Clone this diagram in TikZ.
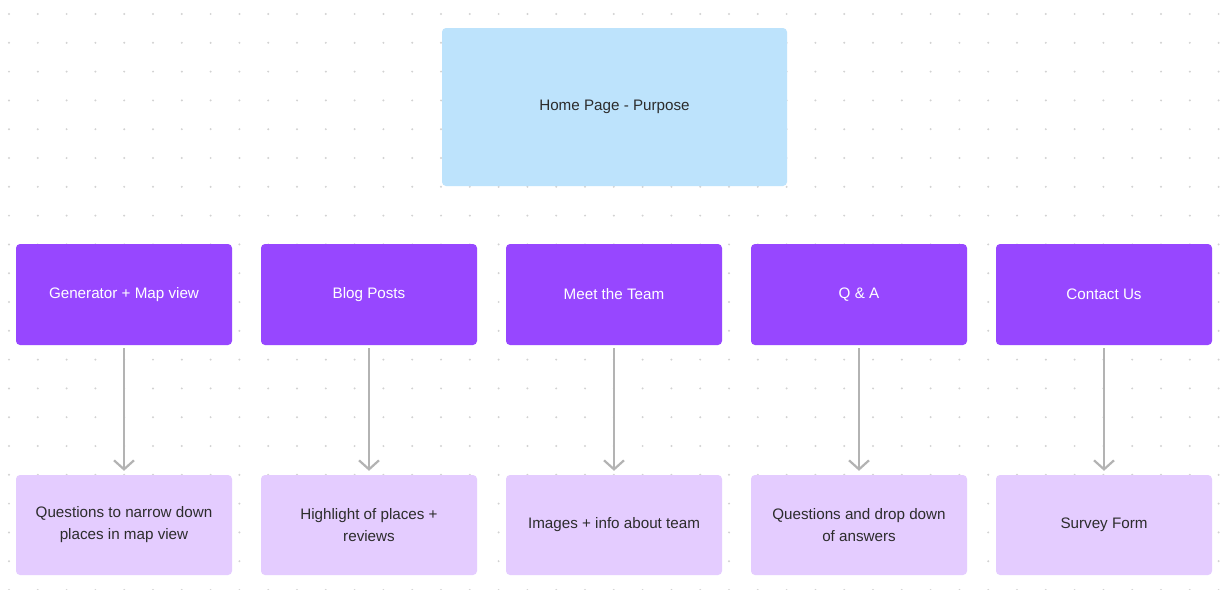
\documentclass[tikz,border=0pt]{standalone}
\usepackage{fontspec}
\setmainfont{Liberation Sans}
\usetikzlibrary{arrows.meta}

\definecolor{homeblue}{HTML}{BDE3FC}
\definecolor{pagepurple}{HTML}{9747FF}
\definecolor{subpurple}{HTML}{E4CCFF}
\definecolor{linkgray}{HTML}{B3B3B3}
\definecolor{dotgray}{HTML}{D2D2D2}
\definecolor{textdark}{HTML}{2C2C2C}

\begin{document}
\begin{tikzpicture}
  [x=1pt,y=-1pt,
     home/.style={rectangle,
                  rounded corners=4pt,
                  fill=homeblue,
                  minimum width=345pt,
                  minimum height=158pt,
                  text=textdark,
                  font=\fontsize{15.2pt}{22pt}\selectfont},
     page/.style={rectangle,
                  rounded corners=4pt,
                  fill=pagepurple,
                  minimum width=216pt,
                  minimum height=101pt,
                  text=white,
                  font=\fontsize{15.2pt}{22pt}\selectfont},
     sub/.style={rectangle,
                  rounded corners=4pt,
                  fill=subpurple,
                  minimum width=216pt,
                  minimum height=100pt,
                  text=textdark,
                  align=center,
                  font=\fontsize{15.2pt}{22pt}\selectfont},
     link/.style={draw=linkgray,
                  line width=2.2pt,
                  shorten <=3pt,
                  shorten >=4pt,
                  -{Straight Barb[length=9pt,width=20pt,line width=2.2pt]}}
  ]
    \useasboundingbox[fill=white] (0,0) rectangle (1222,589);
    % dot grid
    \foreach \i in {0,...,42}{%
        \foreach \j in {0,...,20}{
            \fill[dotgray] ({9+28.8*\i},{14+28.8*\j}) circle (1.1pt);
        }
    }

    \node[home] (home) at (614.5,107) {Home Page - Purpose};

    \foreach \n/\top/\bot in {0/{Generator + Map view}/{Questions to narrow down\\places in map view},
                              1/{Blog Posts}/{Highlight of places +\\reviews},
                              2/{Meet the Team}/{Images + info about team},
                              3/{Q \& A}/{Questions and drop down\\of answers},
                              4/{Contact Us}/{Survey Form}}{%
        \node[page] (p\n) at ({124+245*\n},294.5) {\top};
        \node[sub] (s\n) at ({124+245*\n},525) {\bot};
        \draw[link] (p\n) -- (s\n);
    }

\end{tikzpicture}
\end{document}
